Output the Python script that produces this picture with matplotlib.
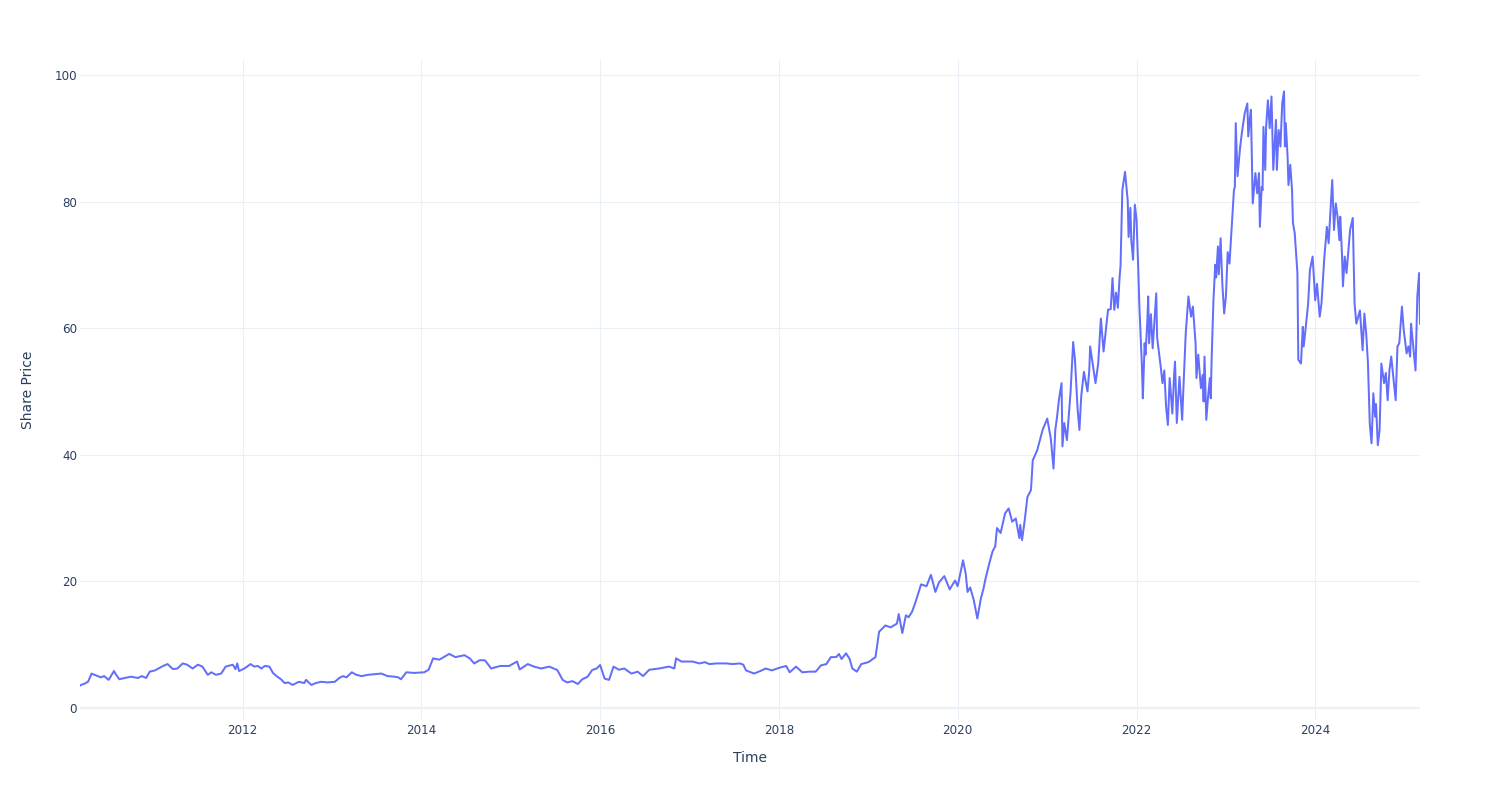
import pandas as pd
import matplotlib
matplotlib.use("Agg")
import matplotlib.pyplot as plt
import matplotlib.dates as mdates

# share price, in segments (decimal year, price)
years_a = [
    2010.18, 2010.19, 2010.23, 2010.27, 2010.31, 2010.34, 2010.38, 2010.41, 2010.45, 2010.5,
    2010.56, 2010.58, 2010.62, 2010.68, 2010.75, 2010.83, 2010.87, 2010.92, 2010.96, 2011.02,
    2011.11, 2011.16, 2011.22, 2011.27, 2011.33, 2011.38, 2011.44, 2011.5, 2011.55, 2011.61,
    2011.65, 2011.7, 2011.76, 2011.81, 2011.89, 2011.92, 2011.94, 2011.96, 2012.02, 2012.09,
    2012.13, 2012.17, 2012.21, 2012.25, 2012.3, 2012.34, 2012.38, 2012.43, 2012.47, 2012.51,
    2012.56, 2012.63, 2012.69, 2012.71, 2012.77, 2012.82, 2012.88, 2012.95, 2013.03, 2013.08,
    2013.12, 2013.16, 2013.22, 2013.27, 2013.33, 2013.4, 2013.48, 2013.55, 2013.62, 2013.7,
    2013.74, 2013.77, 2013.83, 2013.92, 2014.03, 2014.08,
]
prices_a = [
    3.5, 3.6, 3.8, 4.1, 5.4, 5.2, 5.0, 4.8, 5.0, 4.4,
    5.8, 5.3, 4.5, 4.7, 4.9, 4.7, 5.0, 4.7, 5.7, 5.9,
    6.6, 6.9, 6.1, 6.2, 7.0, 6.8, 6.2, 6.8, 6.5, 5.2,
    5.6, 5.2, 5.4, 6.5, 6.8, 6.1, 7.0, 5.8, 6.2, 6.9,
    6.5, 6.6, 6.2, 6.6, 6.5, 5.5, 5.0, 4.5, 3.9, 4.0,
    3.6, 4.1, 3.9, 4.4, 3.6, 3.9, 4.1, 4.0, 4.1, 4.7,
    5.0, 4.8, 5.6, 5.2, 5.0, 5.2, 5.3, 5.4, 5.0, 4.9,
    4.8, 4.5, 5.6, 5.5, 5.6, 6.0,
]

years_b = [
    2014.13, 2014.2, 2014.31, 2014.38, 2014.48, 2014.54, 2014.59, 2014.65, 2014.71, 2014.78,
    2014.88, 2014.98, 2015.07, 2015.1, 2015.19, 2015.26, 2015.34, 2015.43, 2015.52, 2015.58,
    2015.63, 2015.69, 2015.75, 2015.8, 2015.86, 2015.91, 2015.96, 2016.0, 2016.05, 2016.1,
    2016.15, 2016.21, 2016.27, 2016.35, 2016.42, 2016.48, 2016.55, 2016.66, 2016.77, 2016.83,
]
prices_b = [
    7.8, 7.6, 8.5, 8.0, 8.3, 7.8, 7.0, 7.5, 7.5, 6.2,
    6.6, 6.6, 7.3, 6.05, 6.9, 6.5, 6.2, 6.5, 5.96, 4.4,
    4.0, 4.2, 3.75, 4.5, 4.9, 5.96, 6.2, 6.75, 4.6, 4.4,
    6.5, 6.0, 6.2, 5.4, 5.7, 5.0, 6.0, 6.2, 6.5, 6.2,
]

years_c = [
    2016.85, 2016.91, 2017.03, 2017.11, 2017.17, 2017.22, 2017.3, 2017.41, 2017.48, 2017.56,
    2017.6, 2017.63, 2017.72, 2017.79, 2017.85, 2017.92, 2018.0, 2018.08, 2018.12, 2018.19,
    2018.26, 2018.34, 2018.41, 2018.47, 2018.53, 2018.58, 2018.64, 2018.67, 2018.7, 2018.75,
    2018.79, 2018.82, 2018.87, 2018.92, 2019.0, 2019.08,
]
prices_c = [
    7.8, 7.3, 7.3, 7.0, 7.2, 6.9, 7.0, 7.0, 6.9, 7.0,
    6.8, 5.9, 5.4, 5.8, 6.2, 5.9, 6.3, 6.6, 5.6, 6.5,
    5.6, 5.7, 5.7, 6.7, 6.9, 8.0, 8.0, 8.5, 7.7, 8.6,
    7.7, 6.2, 5.7, 6.9, 7.2, 8.0,
]

years_d = [
    2019.12, 2019.19, 2019.25, 2019.32, 2019.34, 2019.38, 2019.42, 2019.45, 2019.49, 2019.53,
    2019.59, 2019.65, 2019.7, 2019.75, 2019.79, 2019.85, 2019.91, 2019.97, 2020.0, 2020.06,
    2020.09, 2020.11, 2020.14, 2020.18, 2020.22, 2020.26, 2020.29, 2020.31, 2020.35, 2020.39,
    2020.42, 2020.44, 2020.48, 2020.53, 2020.57, 2020.61, 2020.65, 2020.69, 2020.7, 2020.72,
    2020.75, 2020.78, 2020.82, 2020.84, 2020.89, 2020.92, 2020.95, 2021.0,
]
prices_d = [
    12.0, 13.0, 12.7, 13.3, 14.8, 11.8, 14.6, 14.3, 15.2, 16.8,
    19.5, 19.2, 21.0, 18.3, 19.8, 20.8, 18.7, 20.1, 19.2, 23.3,
    21.2, 18.3, 19.0, 17.0, 14.1, 17.3, 18.9, 20.3, 22.6, 24.7,
    25.5, 28.4, 27.6, 30.7, 31.5, 29.4, 29.9, 26.8, 28.9, 26.5,
    29.6, 33.3, 34.4, 39.1, 40.7, 42.3, 43.9, 45.7,
]

years_e = [
    2021.04, 2021.07, 2021.09, 2021.11, 2021.13, 2021.16, 2021.17, 2021.19, 2021.22, 2021.26,
    2021.29, 2021.31, 2021.34, 2021.36, 2021.38, 2021.41, 2021.45, 2021.47, 2021.48, 2021.54,
    2021.57, 2021.6, 2021.63, 2021.68, 2021.71, 2021.73, 2021.75, 2021.77, 2021.79, 2021.81,
    2021.82, 2021.84, 2021.87, 2021.9, 2021.91, 2021.93, 2021.94, 2021.96, 2021.98, 2022.0,
]
prices_e = [
    42.5, 37.8, 43.9, 46.0, 48.6, 51.3, 41.3, 45.0, 42.3, 49.7,
    57.8, 55.0, 47.1, 43.9, 49.2, 53.1, 50.0, 53.3, 57.1, 51.3,
    54.4, 61.5, 56.3, 62.9, 63.0, 67.9, 62.9, 65.6, 63.2, 68.2,
    69.8, 81.8, 84.7, 80.2, 74.4, 79.0, 74.0, 70.8, 79.5, 77.0,
]

years_f = [
    2022.02, 2022.03, 2022.06, 2022.07, 2022.09, 2022.1, 2022.12, 2022.13, 2022.14, 2022.16,
    2022.18, 2022.22, 2022.23, 2022.27, 2022.29, 2022.31, 2022.33, 2022.35, 2022.37, 2022.4,
    2022.42, 2022.43, 2022.45, 2022.48, 2022.51, 2022.52, 2022.55, 2022.58, 2022.61, 2022.63,
    2022.66, 2022.67, 2022.69, 2022.72, 2022.74, 2022.75, 2022.76, 2022.78, 2022.8, 2022.82,
    2022.83, 2022.84, 2022.86, 2022.88, 2022.89, 2022.91, 2022.92, 2022.94, 2022.96, 2022.98,
]
prices_f = [
    68.9, 63.9, 53.9, 48.9, 57.6, 55.8, 61.0, 65.0, 57.6, 62.2,
    56.8, 65.5, 58.5, 53.9, 51.3, 53.3, 47.6, 44.7, 52.1, 46.5,
    52.6, 54.7, 45.0, 52.3, 45.5, 49.2, 59.2, 65.0, 61.8, 63.4,
    57.6, 52.1, 55.8, 50.5, 52.6, 48.4, 55.5, 45.5, 49.2, 52.1,
    48.9, 55.3, 64.4, 70.0, 68.0, 72.9, 68.5, 74.2, 66.8, 62.3,
]

years_g = [
    2023.0, 2023.02, 2023.04, 2023.07, 2023.09, 2023.1, 2023.11, 2023.13, 2023.16, 2023.18,
    2023.21, 2023.24, 2023.25, 2023.27, 2023.28, 2023.3, 2023.33, 2023.35, 2023.37, 2023.38,
    2023.4, 2023.41, 2023.42, 2023.44, 2023.45, 2023.47, 2023.49, 2023.51, 2023.53, 2023.56,
    2023.57, 2023.59, 2023.61, 2023.63, 2023.65, 2023.66, 2023.67, 2023.69, 2023.7, 2023.72,
    2023.74, 2023.75, 2023.77, 2023.8, 2023.81, 2023.84, 2023.86, 2023.87, 2023.89, 2023.92,
    2023.94, 2023.97,
]
prices_g = [
    65.0, 72.0, 70.2, 77.1, 81.8, 82.3, 92.4, 84.0, 88.7, 91.0,
    93.9, 95.5, 90.3, 93.4, 94.5, 79.7, 84.5, 81.3, 84.5, 76.0,
    82.3, 81.8, 91.8, 85.0, 91.8, 96.0, 91.6, 96.6, 85.0, 92.9,
    85.0, 91.3, 88.7, 95.5, 97.4, 88.7, 92.4, 87.1, 82.6, 85.8,
    81.8, 76.6, 75.0, 68.7, 55.0, 54.4, 60.2, 57.1, 59.7, 63.9,
    69.2, 71.3,
]

years_h = [
    2024.0, 2024.02, 2024.05, 2024.07, 2024.1, 2024.13, 2024.15, 2024.19, 2024.21, 2024.23,
    2024.25, 2024.27, 2024.28, 2024.3, 2024.31, 2024.33, 2024.35, 2024.39, 2024.42, 2024.44,
    2024.46, 2024.5, 2024.53, 2024.55, 2024.57, 2024.59, 2024.61, 2024.63, 2024.65, 2024.67,
    2024.68, 2024.7, 2024.72, 2024.74, 2024.77, 2024.79, 2024.81, 2024.83, 2024.85, 2024.9,
    2024.92, 2024.94, 2024.97, 2024.99, 2025.02, 2025.04, 2025.06, 2025.07, 2025.12, 2025.14,
    2025.16, 2025.17,
]
prices_h = [
    64.4, 67.0, 61.8, 63.9, 70.8, 76.0, 73.4, 83.4, 75.5, 79.7,
    77.6, 73.9, 77.6, 71.3, 66.6, 71.3, 68.7, 75.5, 77.4, 63.9,
    60.7, 62.8, 56.5, 62.3, 59.2, 54.4, 44.9, 41.8, 49.7, 46.0,
    48.0, 41.5, 43.9, 54.4, 51.3, 52.9, 48.6, 53.3, 55.5, 48.6,
    57.1, 57.6, 63.4, 59.7, 56.0, 57.1, 55.5, 60.7, 53.3, 65.0,
    68.7, 60.7,
]

ytick_vals = [0, 20, 40, 60, 80, 100]
xtick_years = [2012, 2014, 2016, 2018, 2020, 2022, 2024]

years = years_a + years_b + years_c + years_d + years_e + years_f + years_g + years_h
prices = prices_a + prices_b + prices_c + prices_d + prices_e + prices_f + prices_g + prices_h
assert len(years) == len(prices)

dates = [pd.Timestamp(int(y), 1, 1) + pd.Timedelta(days=(y - int(y)) * 365.25) for y in years]

text_color = "#2a3f5f"
grid_color = "#ebf0f8"
plt.rcParams["font.family"] = ["DejaVu Sans"]

fig = plt.figure(figsize=(15, 8), dpi=100)
ax = fig.add_axes([80 / 1500, 80 / 800, 1340 / 1500, 660 / 800])

ax.plot(dates, prices, color="#636efa", linewidth=1.44, zorder=3)

ax.set_xlim(dates[0], dates[-1])
ax.set_ylim(-1.94, 102.37)

ax.set_yticks(ytick_vals)
ax.set_xticks([pd.Timestamp(y, 1, 1) for y in xtick_years])
ax.xaxis.set_major_formatter(mdates.DateFormatter("%Y"))

ax.grid(True, color=grid_color, linewidth=0.75, zorder=0)
ax.axhline(0, color=grid_color, linewidth=1.5, zorder=1)
for s in ax.spines.values():
    s.set_visible(False)
ax.tick_params(axis="both", length=0, labelsize=8.6, labelcolor=text_color)
ax.tick_params(axis="y", pad=2)
ax.tick_params(axis="x", pad=3)

ax.set_xlabel("Time", fontsize=10, color=text_color, labelpad=10)
ax.set_ylabel("Share Price", fontsize=10, color=text_color, labelpad=14)

fig.savefig("out.png", dpi=100)
